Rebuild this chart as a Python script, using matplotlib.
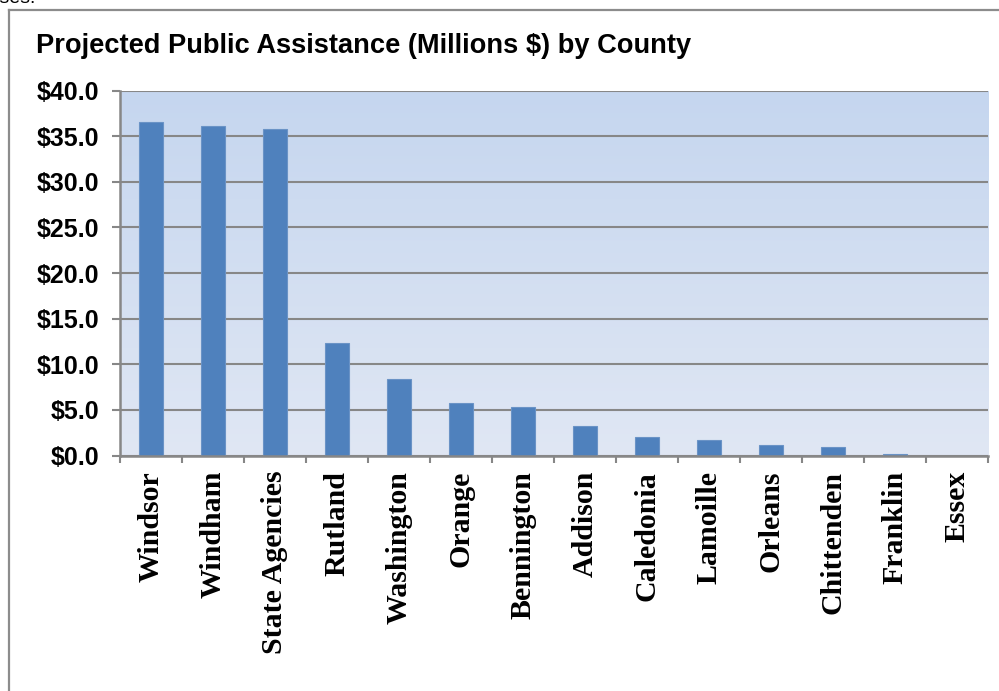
import matplotlib.pyplot as plt
import numpy as np
from matplotlib.lines import Line2D
from matplotlib.ticker import FuncFormatter, FixedLocator

plt.rcParams['font.family'] = 'Liberation Sans'

counties = ['Windsor', 'Windham', 'State Agencies', 'Rutland', 'Washington', 'Orange',
            'Bennington', 'Addison', 'Caledonia', 'Lamoille', 'Orleans', 'Chittenden',
            'Franklin', 'Essex']
assistance = [36.6, 36.1, 35.8, 12.3, 8.4, 5.7, 5.3, 3.2, 2.0, 1.7, 1.2, 0.95, 0.2, 0.0]
y_ticks = [0, 5, 10, 15, 20, 25, 30, 35, 40]

GRID = '#878787'

fig = plt.figure(figsize=(9.99, 6.91), dpi=100)
ax = fig.add_axes([0.1201, 0.3408, 0.8689, 0.5282])

# gradient background of the plot area
grad = np.linspace(0, 1, 256).reshape(-1, 1)
top_c = np.array([0xc5, 0xd6, 0xef]) / 255
bot_c = np.array([0xe0, 0xe7, 0xf4]) / 255
img = top_c * (1 - grad[..., None]) + bot_c * grad[..., None]
ax.imshow(img, extent=[0, 1, 0, 1], transform=ax.transAxes, aspect='auto', zorder=0)

x = np.arange(len(counties))
ax.bar(x, assistance, width=0.4, color='#4f81bd', edgecolor='#6a93c6', linewidth=0.8, zorder=3)

ax.set_xlim(-0.5, len(counties) - 0.5)
ax.set_ylim(0, 40)
ax.set_yticks(y_ticks)
ax.yaxis.set_major_formatter(FuncFormatter(lambda v, p: f'${v:.1f}'))
ax.grid(axis='y', color=GRID, linewidth=1.5, zorder=1)
ax.set_axisbelow(True)

for s in ['top', 'right']:
    ax.spines[s].set_visible(False)
for s in ['left', 'bottom']:
    ax.spines[s].set_color(GRID)
    ax.spines[s].set_linewidth(1.8)
    ax.spines[s].set_zorder(4)

ax.tick_params(axis='y', length=6, width=1.5, color=GRID, pad=9,
               labelsize=18)
for lbl in ax.get_yticklabels():
    lbl.set_fontweight('bold')

ax.set_xticks(x)
ax.set_xticklabels(counties, rotation=90, fontfamily='Liberation Serif',
                   fontweight='bold', fontsize=21.5)
ax.tick_params(axis='x', which='major', length=0, pad=11)
ax.xaxis.set_minor_locator(FixedLocator(np.arange(-0.5, len(counties), 1.0)))
ax.tick_params(axis='x', which='minor', length=5, width=1.5, color=GRID)

fig.text(36 / 999, 1 - 53 / 691, 'Projected Public Assistance (Millions $) by County',
         fontsize=19.6, fontweight='bold', va='baseline', ha='left')

# cropped text from the page above the chart
fig.text(-0.004, 1 - 3 / 691, 'ises.', fontsize=14, va='baseline', ha='left')

# chart frame (clipped at right and bottom)
fig.add_artist(Line2D([9 / 999, 1.0], [1 - 10 / 691, 1 - 10 / 691], color='#8c8c8c',
                      linewidth=1.6, transform=fig.transFigure))
fig.add_artist(Line2D([9 / 999, 9 / 999], [0, 1 - 10 / 691], color='#8c8c8c',
                      linewidth=1.6, transform=fig.transFigure))

fig.savefig('out.png', dpi=100, facecolor='white')
